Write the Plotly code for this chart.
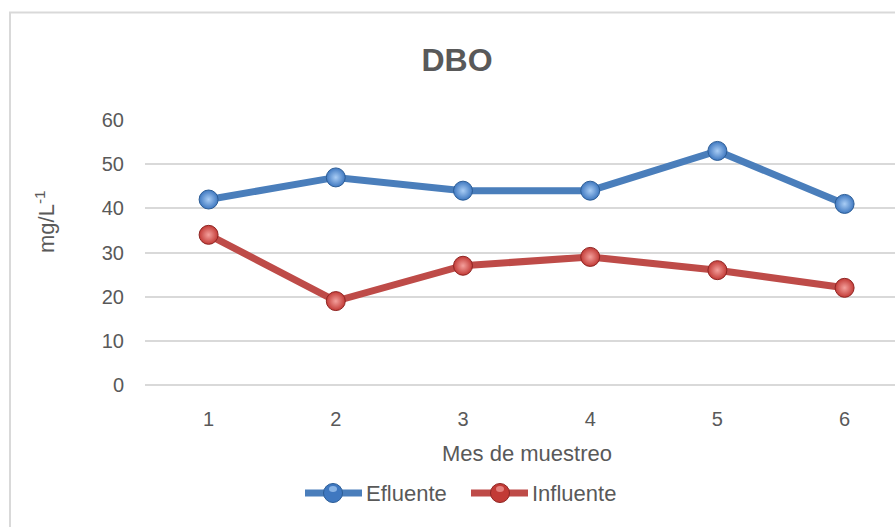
import plotly.graph_objects as go

# Sampling months and BOD readings (mg/L)
meses = [1, 2, 3, 4, 5, 6]
efluente = [42, 47, 44, 44, 53, 41]
influente = [34, 19, 27, 29, 26, 22]
series_names = ["Efluente", "Influente"]
y_ticks = [0, 10, 20, 30, 40, 50, 60]

W, H = 895, 527
# plot area in pixels
L, R, T, B = 145, 895, 120, 385
GREY_TXT = "#595959"
GRID = "#d9d9d9"
FONT = "Liberation Sans, Arial, sans-serif"

styles = [
    dict(line="#4a7ebb", ball="#3f78c0", light="#a9cdf5", edge="#2c5d96"),
    dict(line="#be4b48", ball="#c23a36", light="#f4a09c", edge="#8f2523"),
]


def px_x(p):
    return (p - L) / (R - L)


def px_y(p):
    return (B - p) / (B - T)


fig = go.Figure()
for name, vals, st in zip(series_names, [efluente, influente], styles):
    fig.add_trace(go.Scatter(
        x=meses, y=vals, name=name, mode="lines+markers",
        line=dict(color=st["line"], width=7),
        marker=dict(size=19, color=st["ball"],
                    gradient=dict(type="radial", color=st["light"]),
                    line=dict(color=st["edge"], width=1)),
        cliponaxis=False, showlegend=False,
    ))

# custom legend: line sample, sphere marker, label
legend_items = [(305, 362, 333, 364), (471, 528, 500, 530)]
LEG_Y = 493
RAD = 9.5
shapes = []
annotations = []
for (x0, x1, xm, xt), name, st in zip(legend_items, series_names, styles):
    shapes.append(dict(type="line", xref="paper", yref="paper",
                       x0=px_x(x0), x1=px_x(x1), y0=px_y(LEG_Y), y1=px_y(LEG_Y),
                       line=dict(color=st["line"], width=7)))
    shapes.append(dict(type="circle", xref="paper", yref="paper",
                       x0=px_x(xm - RAD), x1=px_x(xm + RAD),
                       y0=px_y(LEG_Y + RAD), y1=px_y(LEG_Y - RAD),
                       fillcolor=st["ball"], line=dict(color=st["edge"], width=1)))
    shapes.append(dict(type="circle", xref="paper", yref="paper",
                       x0=px_x(xm - 4), x1=px_x(xm + 4),
                       y0=px_y(LEG_Y - 1), y1=px_y(LEG_Y - 7),
                       fillcolor=st["light"], opacity=0.7, line=dict(width=0)))
    annotations.append(dict(text=name, xref="paper", yref="paper",
                            x=px_x(xt), y=px_y(LEG_Y), xanchor="left", yanchor="middle",
                            showarrow=False, font=dict(size=22, color=GREY_TXT, family=FONT)))

# chart border
shapes.append(dict(type="rect", xref="paper", yref="paper",
                   x0=px_x(10), x1=px_x(960), y0=px_y(600), y1=px_y(12.5),
                   line=dict(color=GRID, width=2), fillcolor="rgba(0,0,0,0)", layer="below"))

# axis titles
annotations.append(dict(text="Mes de muestreo", xref="paper", yref="paper",
                        x=px_x(527), y=px_y(453), xanchor="center", yanchor="middle",
                        showarrow=False, font=dict(size=22, color=GREY_TXT, family=FONT)))
annotations.append(dict(text="mg/L<sup>-1</sup>", xref="paper", yref="paper",
                        x=px_x(45), y=px_y(222), xanchor="center", yanchor="middle",
                        textangle=-90, showarrow=False,
                        font=dict(size=22, color=GREY_TXT, family=FONT)))

fig.update_layout(
    width=W, height=H,
    margin=dict(l=L, r=W - R, t=T, b=H - B, pad=0),
    paper_bgcolor="white", plot_bgcolor="white",
    font=dict(family=FONT, color=GREY_TXT, size=20),
    title=dict(text="<b>DBO</b>", x=457 / W, y=1 - 60 / H, xanchor="center", yanchor="middle",
               font=dict(size=32, color=GREY_TXT, family=FONT)),
    xaxis=dict(range=[0.5, 0.5 + (R - L) / 127.2], tickvals=meses,
               showgrid=False, zeroline=False, showline=False, ticks="",
               ticklabelstandoff=20, tickfont=dict(size=20, color=GREY_TXT)),
    yaxis=dict(range=[0, 60], tickvals=y_ticks, showgrid=True, gridcolor=GRID, gridwidth=1.5,
               zeroline=True, zerolinecolor=GRID, zerolinewidth=1.5, showline=False, ticks="",
               ticklabelstandoff=20, tickfont=dict(size=20, color=GREY_TXT)),
    shapes=shapes, annotations=annotations, showlegend=False,
)

fig.write_html("out.html")
